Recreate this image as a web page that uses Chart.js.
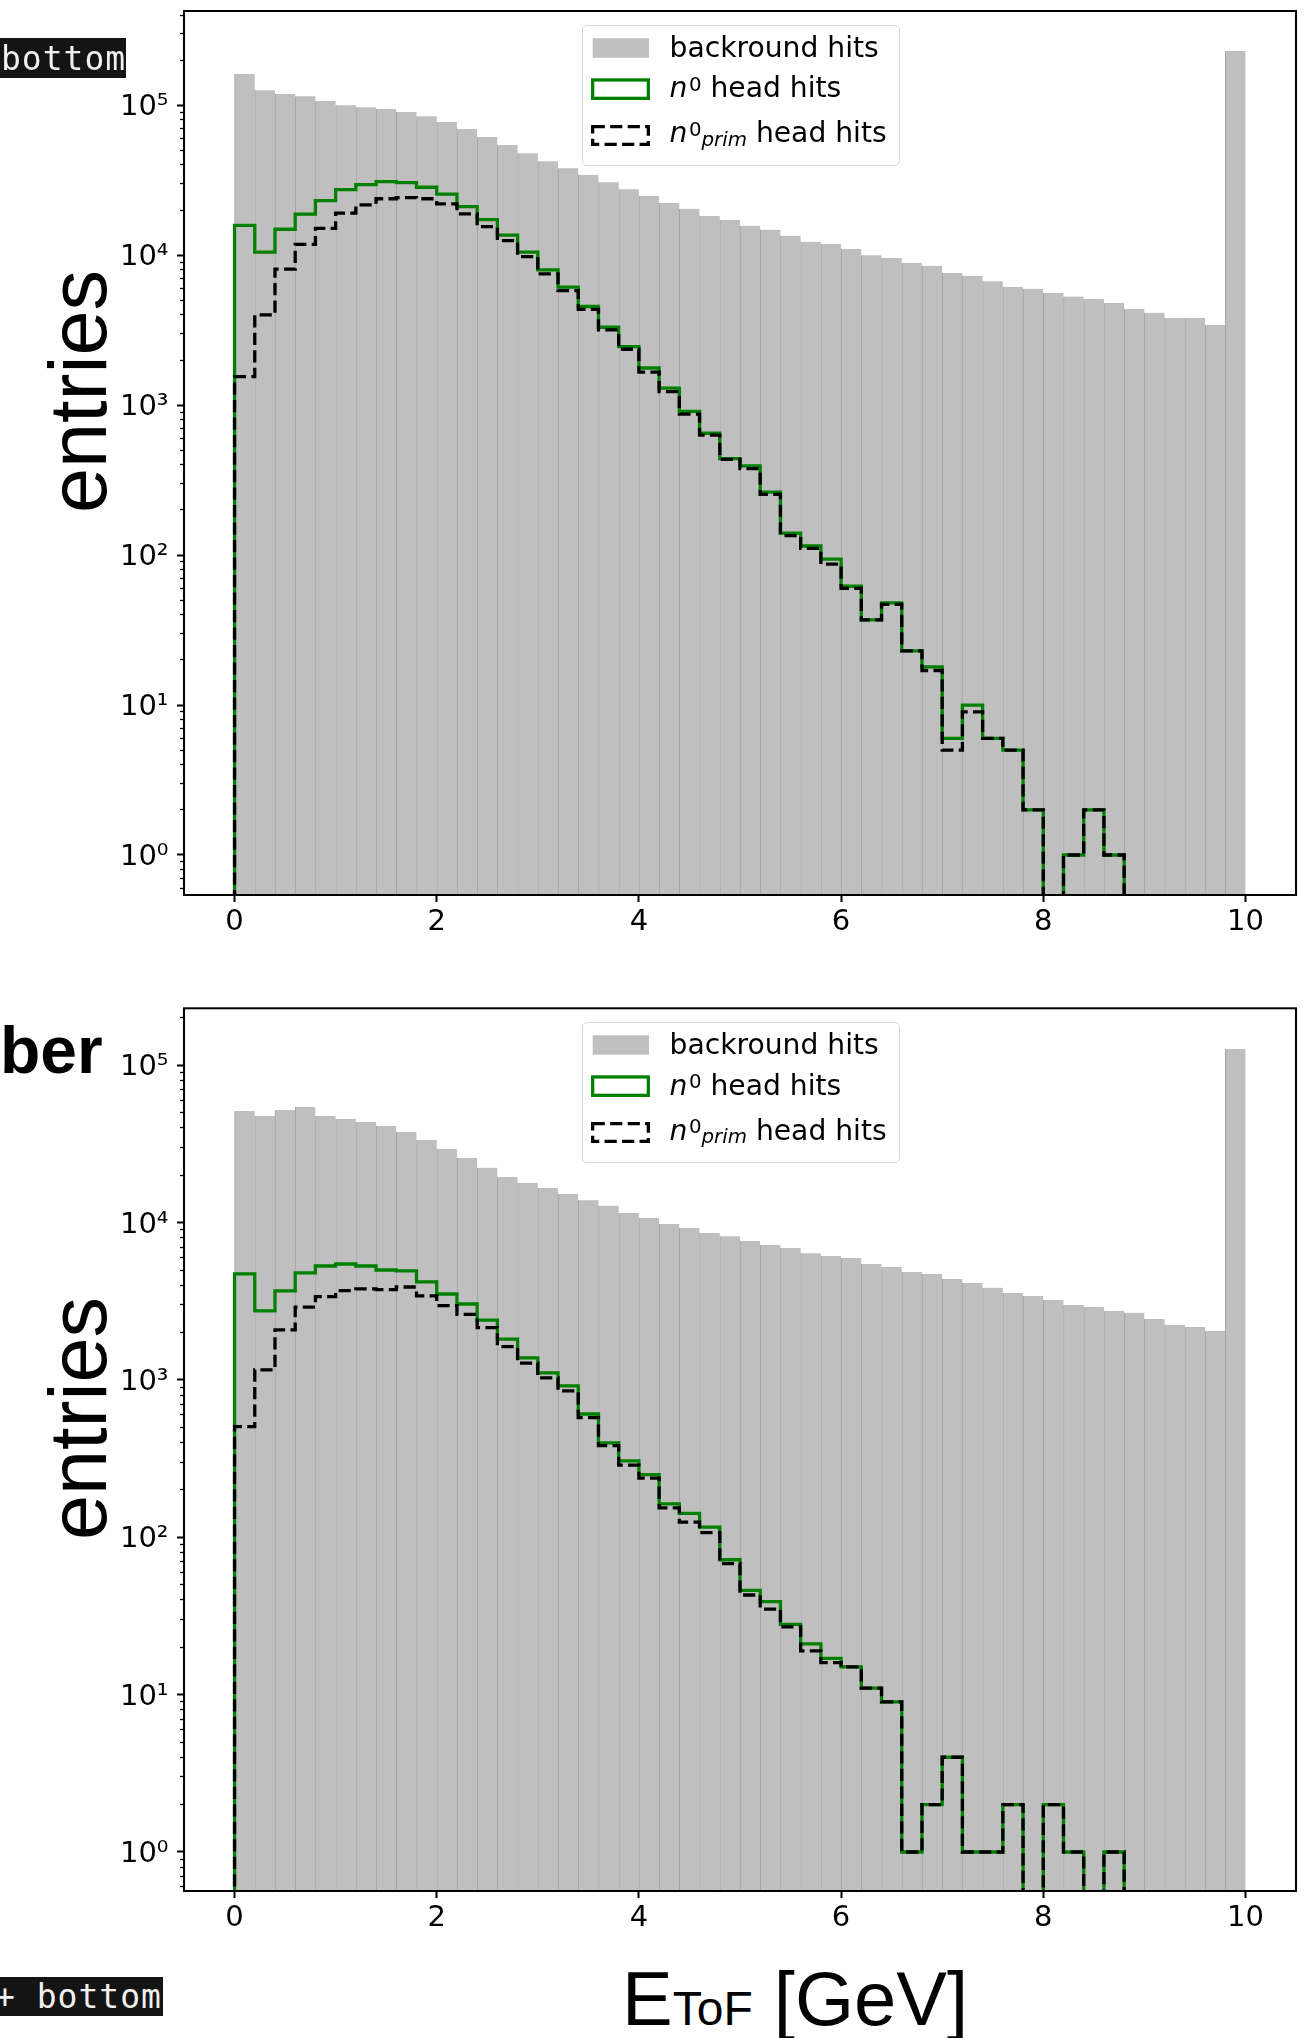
<!DOCTYPE html>
<html lang="en">
<head>
<meta charset="utf-8">
<title>ToF energy spectra</title>
<script src="https://cdn.jsdelivr.net/npm/chart.js@4.4.1/dist/chart.umd.min.js"></script>
<style>
  html, body { margin: 0; padding: 0; background: #fff; }
  #page { position: relative; width: 1316px; height: 2038px; overflow: hidden; }
  .panel { position: absolute; left: 0; width: 1316px; height: 960px; }
  .tag { position: absolute; left: 0; background: #141414; }
  .tag span { position: absolute; white-space: nowrap; color: #f0f0f0;
              font: 33px/33px 'DejaVu Sans Mono', monospace; letter-spacing: 1px; }
  .ylabel { position: absolute; white-space: nowrap; color: #000;
            font: 81px/81px 'Liberation Sans', Arial, sans-serif;
            transform: rotate(-90deg); transform-origin: 0 0; }
  #ber { position: absolute; left: 0; top: 1017.4px; white-space: nowrap;
         font: bold 66px/66px 'Liberation Sans', Arial, sans-serif; }
  #xtitle { position: absolute; left: 622px; top: 1961.2px; white-space: nowrap;
            font: 76px/76px 'Liberation Sans', Arial, sans-serif; }
  #xtitle span { font-size: 48px; }
  .legend-box { position: absolute; box-sizing: border-box; border: 1.4px solid #d6d6d6;
                border-radius: 5px; background: rgba(255,255,255,0.8); }
  .legend-row { position: absolute; white-space: nowrap; color: #000;
                font: 28.2px/28.2px 'DejaVu Sans', sans-serif; }
  .legend-row sup, .legend-row sub { font-size: 19.8px; line-height: 0; position: relative; vertical-align: baseline; }
  .legend-row sup { top: -6.6px; margin-left: 1.5px; }
  .legend-row sub { top: 3.4px; }
</style>
</head>
<body>
<div id="page">
  <div class="panel" style="top:0"><canvas id="top"></canvas></div>
  <div class="panel" style="top:980px"><canvas id="bottom"></canvas></div>

  <div class="tag" style="top:38.3px;width:125.5px;height:39.4px"><span style="left:1px;top:3.8px">bottom</span></div>
  <div class="tag" style="top:1976.7px;width:163px;height:39.3px"><span style="left:-5px;top:3.7px">+ bottom</span></div>

  <div class="ylabel" style="left:38.4px;top:513.4px">entries</div>
  <div class="ylabel" style="left:38.4px;top:1539.9px">entries</div>
  <div id="ber">ber</div>
  <div id="xtitle">E<span>ToF</span> [GeV]</div>
</div>

<script>
// histogram binning: 50 bins of 0.2 GeV
const binEdges = [0.0, 0.2, 0.4, 0.6, 0.8, 1.0, 1.2, 1.4, 1.6, 1.8,
  2.0, 2.2, 2.4, 2.6, 2.8, 3.0, 3.2, 3.4, 3.6, 3.8,
  4.0, 4.2, 4.4, 4.6, 4.8, 5.0, 5.2, 5.4, 5.6, 5.8,
  6.0, 6.2, 6.4, 6.6, 6.8, 7.0, 7.2, 7.4, 7.6, 7.8,
  8.0, 8.2, 8.4, 8.6, 8.8, 9.0, 9.2, 9.4, 9.6, 9.8, 10.0];

const xTicks = [0, 2, 4, 6, 8, 10];
const yMajorTicks = [1, 10, 100, 1000, 10000, 100000];
const yTickLabels = ['10⁰', '10¹', '10²', '10³', '10⁴', '10⁵'];

// upper panel
const backgroundTop = [162000, 126000, 119000, 115000, 107000, 100000, 97000, 94600, 90300, 84500,
  77400, 69500, 61500, 54400, 47900, 42400, 38000, 34400, 30700, 27500,
  24900, 22300, 20400, 18300, 17200, 15700, 14800, 13500, 12300, 11900,
  11000, 10000, 9600, 8900, 8500, 7600, 7300, 6700, 6150, 5970,
  5600, 5300, 5100, 4800, 4380, 4130, 3820, 3820, 3430, 230000];
const headTop = [15800, 10500, 14900, 18800, 23100, 27400, 29600, 31000, 30500, 28400,
  25600, 21100, 17300, 13600, 10500, 7980, 6120, 4550, 3310, 2460,
  1770, 1300, 908, 650, 440, 394, 263, 140, 115, 94,
  62, 37, 48, 23, 18, 6, 10, 6, 5, 2,
  0, 1, 2, 1, 0, 0, 0, 0, 0, 0];
const primTop = [1550, 4000, 8070, 11800, 15100, 19100, 21700, 23800, 24200, 23800,
  22000, 18900, 15500, 12500, 9800, 7500, 5800, 4360, 3180, 2360,
  1660, 1230, 871, 631, 435, 377, 254, 135, 111, 87,
  60, 37, 47, 23, 17, 5, 9, 6, 5, 2,
  0, 1, 2, 1, 0, 0, 0, 0, 0, 0];

// lower panel
const backgroundBottom = [51300, 47700, 52000, 54300, 47700, 45600, 43600, 41100, 37700, 33500,
  29400, 25800, 22300, 19500, 17900, 16600, 15200, 13900, 12800, 11500,
  10700, 9800, 9250, 8600, 8200, 7650, 7200, 6900, 6400, 6140,
  5960, 5460, 5220, 4860, 4720, 4390, 4140, 3850, 3570, 3420,
  3220, 3000, 2910, 2750, 2670, 2440, 2240, 2170, 2050, 127000];
const headBottom = [4720, 2750, 3680, 4790, 5300, 5460, 5300, 5000, 4930, 4200,
  3520, 3040, 2400, 1820, 1380, 1110, 917, 608, 398, 306,
  250, 163, 142, 116, 72, 46, 39, 28, 21, 17,
  15, 11, 9, 1, 2, 4, 1, 1, 2, 0,
  2, 1, 0, 1, 0, 0, 0, 0, 0, 0];
const primBottom = [505, 1160, 2080, 2900, 3390, 3700, 3790, 3750, 3900, 3420,
  2970, 2610, 2150, 1630, 1280, 1030, 852, 577, 383, 288,
  238, 154, 125, 107, 68, 43, 35, 27, 19, 16,
  15, 11, 9, 1, 2, 4, 1, 1, 2, 0,
  2, 1, 0, 1, 0, 0, 0, 0, 0, 0];

// empty bins sit below the log axis so the step drops out of view
const FLOOR = 1e-3;

const barPoints = counts => counts.map((c, i) => ({ x: (binEdges[i] + binEdges[i + 1]) / 2, y: c }));

const stepPoints = counts => {
  const pts = [{ x: binEdges[0], y: FLOOR }];
  counts.forEach((c, i) => pts.push({ x: binEdges[i], y: c > 0 ? c : FLOOR }));
  pts.push({ x: binEdges[binEdges.length - 1], y: FLOOR });
  return pts;
};

const minorTicks = (min, max) => {
  const out = [];
  for (let e = -1; e <= 5; e++) {
    for (let m = 2; m <= 9; m++) {
      const v = m * Math.pow(10, e);
      if (v > min && v < max) out.push(v);
    }
  }
  return out;
};

const frame = {
  id: 'frame',
  afterDatasetsDraw(chart) {
    const { ctx, chartArea: a } = chart;
    ctx.save();
    ctx.strokeStyle = '#000';
    ctx.lineWidth = 2;
    ctx.strokeRect(a.left, a.top, a.right - a.left, a.bottom - a.top);
    ctx.restore();
  }
};

// keep the plot area where the layout padding puts it
const noPad = ax => {
  ax.paddingTop = 0;
  ax.paddingBottom = 0;
  ax.paddingLeft = 0;
  ax.paddingRight = 0;
};

const tickFont = { family: "'DejaVu Sans', sans-serif", size: 29 };

const makeChart = p => new Chart(document.getElementById(p.id), {
  type: 'line',
  data: {
    datasets: [
      {
        label: 'n0 prim head hits', type: 'line', data: stepPoints(p.prim), yAxisID: 'y', order: 1,
        borderColor: '#000', borderWidth: 3.3, borderDash: [12.2, 5.3], stepped: 'before',
        borderJoinStyle: 'miter', borderCapStyle: 'butt', pointRadius: 0, fill: false
      },
      {
        label: 'n0 head hits', type: 'line', data: stepPoints(p.head), yAxisID: 'y', order: 2,
        borderColor: '#008000', borderWidth: 3.3, stepped: 'before',
        borderJoinStyle: 'miter', borderCapStyle: 'butt', pointRadius: 0, fill: false
      },
      {
        label: 'backround hits', type: 'bar', data: barPoints(p.background), yAxisID: 'y', order: 3,
        backgroundColor: '#bfbfbf', borderColor: '#a2a2a2',
        borderWidth: { left: 1, right: 0, top: 0, bottom: 0 }, borderSkipped: false,
        barPercentage: 1, categoryPercentage: 1, grouped: false
      }
    ]
  },
  options: {
    responsive: true,
    maintainAspectRatio: false,
    animation: false,
    events: [],
    layout: { padding: { top: p.padTop, right: 20, bottom: 0, left: 0 } },
    plugins: { legend: { display: false }, tooltip: { enabled: false } },
    scales: {
      x: {
        type: 'linear', min: -0.5, max: 10.5, offset: false,
        afterBuildTicks: ax => { ax.ticks = xTicks.map(v => ({ value: v })); },
        afterFit: ax => { ax.height = p.xAxisHeight; noPad(ax); },
        border: { display: false },
        grid: { offset: false, drawOnChartArea: false, tickLength: 7, tickWidth: 2, tickColor: '#000' },
        ticks: { color: '#000', font: tickFont, padding: 3, maxRotation: 0, autoSkip: false }
      },
      y: {
        type: 'logarithmic', position: 'left', weight: 1, min: p.yMin, max: p.yMax,
        afterBuildTicks: ax => { ax.ticks = yMajorTicks.map(v => ({ value: v })); },
        afterFit: ax => { ax.width = 184; noPad(ax); },
        border: { display: false },
        grid: { drawOnChartArea: false, tickLength: 7, tickWidth: 2, tickColor: '#000' },
        ticks: {
          color: '#000', font: tickFont, padding: 8.5, labelOffset: 2.5, autoSkip: false,
          callback: v => yTickLabels[yMajorTicks.indexOf(v)] ?? ''
        }
      },
      yMinor: {
        type: 'logarithmic', position: 'left', weight: 0, min: p.yMin, max: p.yMax,
        afterBuildTicks: ax => { ax.ticks = minorTicks(p.yMin, p.yMax).map(v => ({ value: v })); },
        afterFit: ax => { ax.width = 0; noPad(ax); },
        border: { display: false },
        grid: { drawOnChartArea: false, tickLength: 4, tickWidth: 1.3, tickColor: '#000' },
        ticks: { display: false, autoSkip: false }
      }
    }
  },
  plugins: [frame]
});

const panels = [
  { id: 'top', yMin: 0.541, yMax: 425500, padTop: 11, xAxisHeight: 65, legendTop: 0,
    background: backgroundTop, head: headTop, prim: primTop },
  { id: 'bottom', yMin: 0.565, yMax: 230300, padTop: 28.3, xAxisHeight: 49, legendTop: 997.3,
    background: backgroundBottom, head: headBottom, prim: primBottom }
];

// legend in the upper centre of each panel
const addLegend = dy => {
  const page = document.getElementById('page');
  const box = document.createElement('div');
  box.className = 'legend-box';
  Object.assign(box.style, { left: '582px', top: `${25 + dy}px`, width: '317.5px', height: '141px' });
  page.appendChild(box);

  const swatches = document.createElementNS('http://www.w3.org/2000/svg', 'svg');
  swatches.setAttribute('width', '70');
  swatches.setAttribute('height', '130');
  Object.assign(swatches.style, { position: 'absolute', left: '588px', top: `${25 + dy}px` });
  swatches.innerHTML = `
    <rect x="4.7" y="13.3" width="56.3" height="19.4" fill="#bfbfbf"/>
    <rect x="4.65" y="54.95" width="55.7" height="18.4" fill="none" stroke="#008000" stroke-width="3.3"/>
    <rect x="4.65" y="101.65" width="55.7" height="17.7" fill="none" stroke="#000" stroke-width="3.3"
          stroke-dasharray="12.2 5.3"/>`;
  page.appendChild(swatches);

  const rows = [
    { top: 33.8, html: 'backround hits' },
    { top: 74.4, html: '<i>n</i><sup>0</sup> head hits' },
    { top: 119.4, html: '<i>n</i><sup>0</sup><sub><i>prim</i></sub> head hits' }
  ];
  rows.forEach(r => {
    const row = document.createElement('div');
    row.className = 'legend-row';
    Object.assign(row.style, { left: '669.5px', top: `${r.top + dy}px` });
    row.innerHTML = r.html;
    page.appendChild(row);
  });
};

panels.forEach(p => {
  makeChart(p);
  addLegend(p.legendTop);
});
</script>
</body>
</html>
